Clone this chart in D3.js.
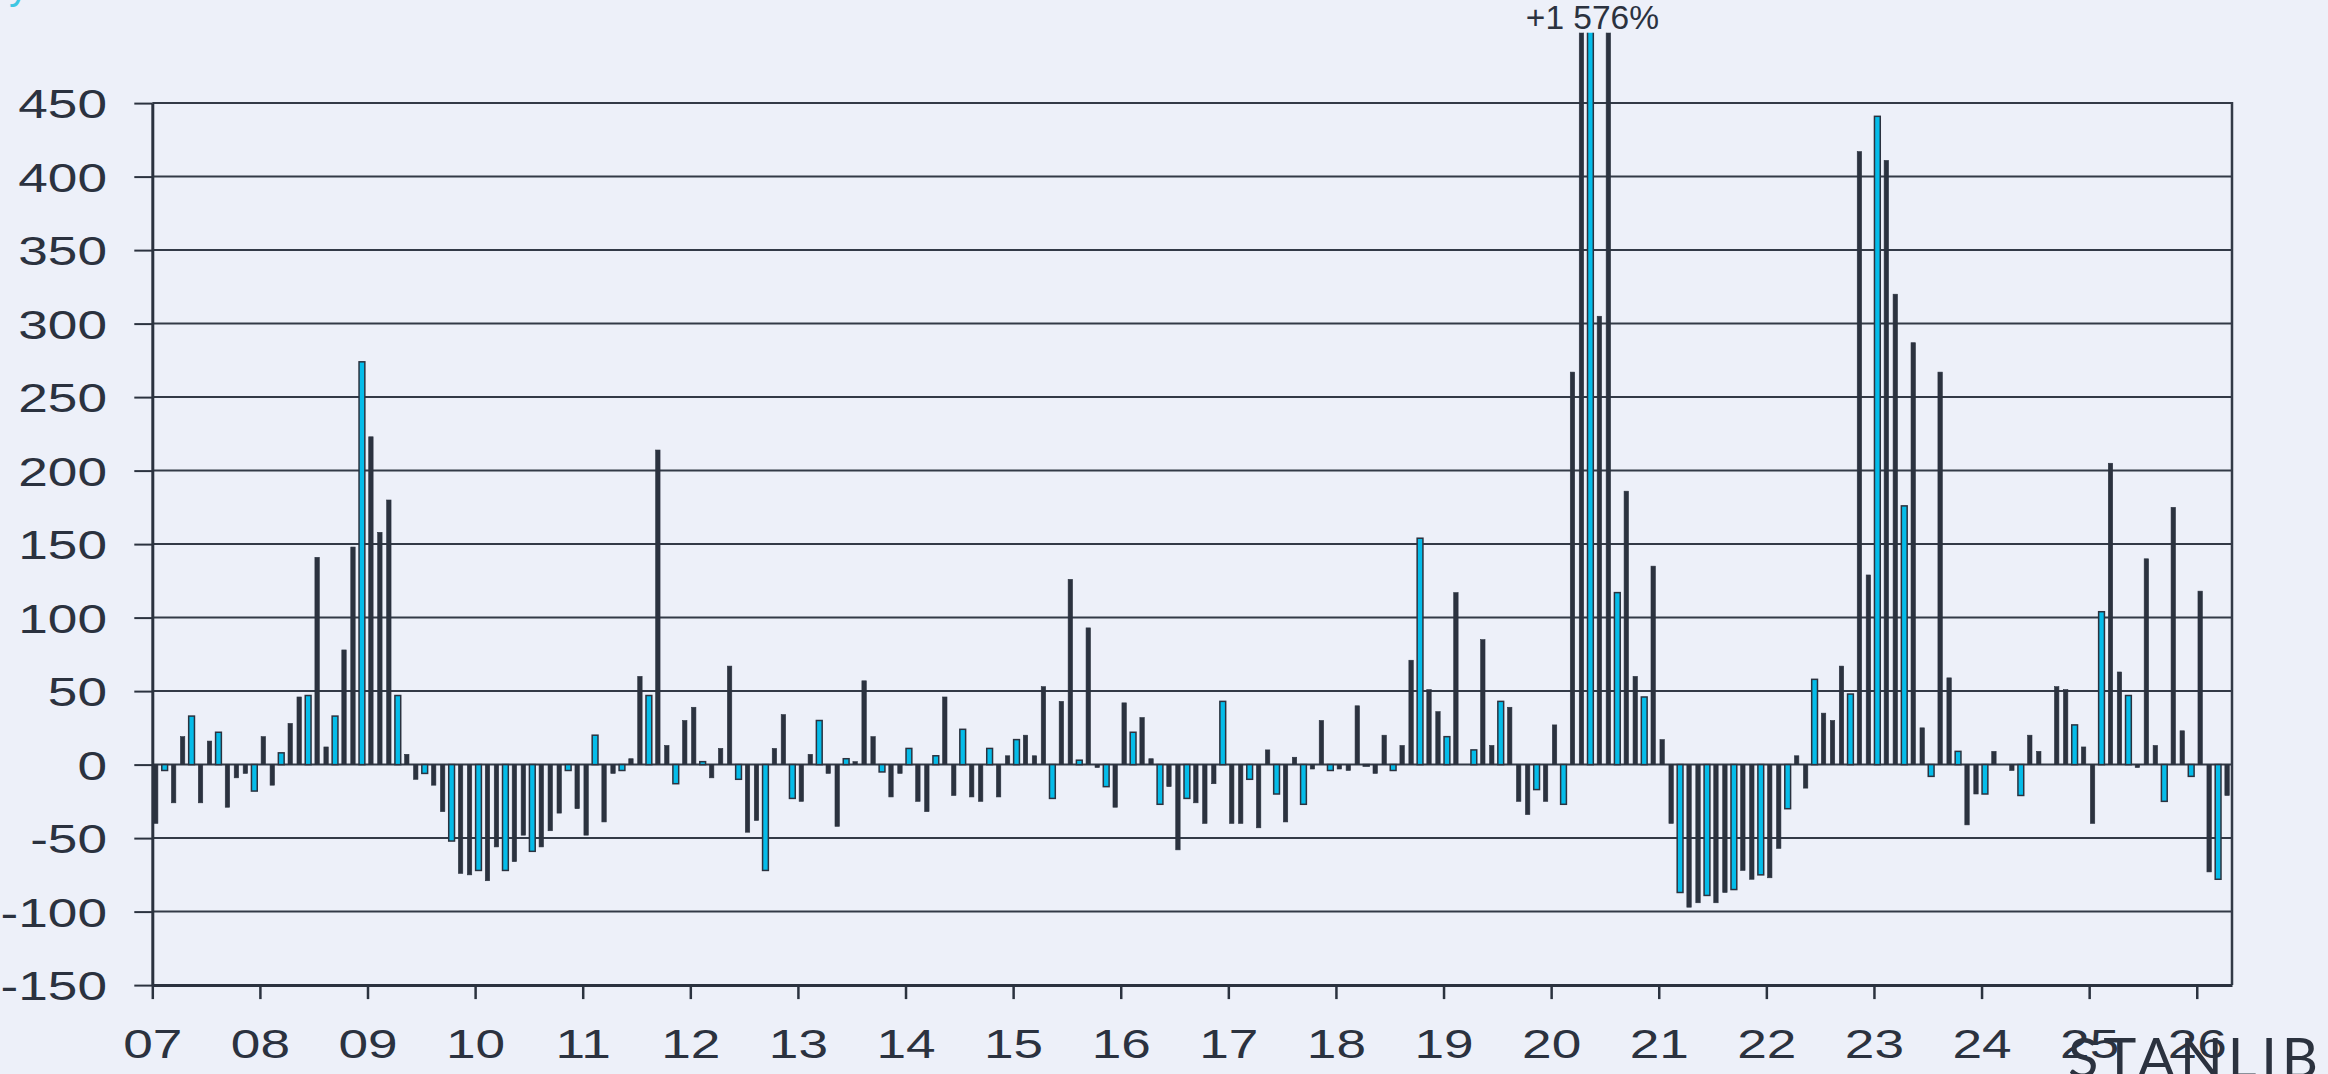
<!DOCTYPE html>
<html><head><meta charset="utf-8">
<script src="https://cdn.jsdelivr.net/npm/d3@7"></script>
<style>html,body{margin:0;padding:0;background:#edf0f9;overflow:hidden}</style>
</head><body><svg id="c" width="2328" height="1074"></svg>
<script>
// Monthly % change values, Jan 2007 .. Apr 2026 (one row per year)
const values = [
  -40,-4,-26,19,33,-26,16,22,-29,-9,-6,-18,
  19,-14,8,28,46,47,141,12,33,78,148,274,
  223,158,180,47,7,-10,-6,-14,-32,-52,-74,-75,
  -72,-79,-56,-72,-66,-48,-59,-56,-45,-33,-4,-30,
  -48,20,-39,-6,-4,4,60,47,214,13,-13,30,
  39,2,-9,11,67,-10,-46,-38,-72,11,34,-23,
  -25,7,30,-6,-42,4,2,57,19,-5,-22,-6,
  11,-25,-32,6,46,-21,24,-22,-25,11,-22,6,
  17,20,6,53,-23,43,126,3,93,-2,-15,-29,
  42,22,32,4,-27,-15,-58,-23,-26,-40,-13,43,
  -40,-40,-10,-43,10,-20,-39,5,-27,-3,30,-4,
  -3,-4,40,-1,-6,20,-4,13,71,154,51,36,
  19,117,0,10,85,13,43,39,-25,-34,-17,-25,
  27,-27,267,650,1576,305,700,117,186,60,46,135,
  17,-40,-87,-97,-94,-89,-94,-87,-85,-72,-78,-75,
  -77,-57,-30,6,-16,58,35,30,67,48,417,129,
  441,411,320,176,287,25,-8,267,59,9,-41,-20,
  -20,9,0,-4,-21,20,9,0,53,51,27,12,
  -40,104,205,63,47,-2,140,13,-25,175,23,-8,
  118,-73,-78,-21
];
// indices of highlighted (cyan) bars
const cyanBars = [1,4,7,11,14,17,20,23,27,30,33,36,39,42,46,49,52,55,58,61,65,68,71,74,77,81,84,87,90,93,96,100,103,106,109,112,115,119,122,125,128,131,135,138,141,144,147,150,154,157,160,163,166,170,173,176,179,182,185,189,192,195,198,201,204,208,211,214,217,220,224,227,230];
const yearLabels = ["07","08","09","10","11","12","13","14","15","16","17","18","19","20","21","22","23","24","25","26"];
const yTicks = [-150,-100,-50,0,50,100,150,200,250,300,350,400,450];
const peakIndex = 160;
const peakLabel = "+1 576%";
const brandText = "STANLIB";

const dark = "#2b323f", gridCol = "#333a47", cyan = "#05bce9", bg = "#edf0f9";
const W = 2328, H = 1074;
const plotLeft = 152.3, plotRight = 2232, plotTop = 103.1, plotBottom = 985.1;
const stretch = 1.33;
const font = "'Liberation Sans', Arial, sans-serif";

const svg = d3.select("#c");
svg.append("rect").attr("width", W).attr("height", H).attr("fill", bg);

const x = d3.scaleLinear().domain([0, 231.93]).range([plotLeft, plotRight]);
const y = d3.scaleLinear().domain([-150, 450]).range([plotBottom, plotTop]);
const barOffset = 0.38;

// gridlines
svg.append("g").selectAll("line").data(yTicks.filter(d => d > -150)).join("line")
  .attr("x1", plotLeft).attr("x2", plotRight)
  .attr("y1", d => y(d)).attr("y2", d => y(d))
  .attr("stroke", gridCol).attr("stroke-width", 2);

// right border
svg.append("line").attr("x1", plotRight).attr("x2", plotRight)
  .attr("y1", y(450) - 1).attr("y2", y(-150))
  .attr("stroke", gridCol).attr("stroke-width", 2.5);

// clip
svg.append("defs").append("clipPath").attr("id", "clip")
  .append("rect").attr("x", 0).attr("y", y(497.8)).attr("width", W).attr("height", H);

const cyanSet = new Set(cyanBars);
const bars = values.map((v, i) => ({ v, i, c: cyanSet.has(i) }));
const darkW = 4.4, cyanW = 5.8;
svg.append("g").attr("clip-path", "url(#clip)")
  .selectAll("rect").data(bars).join("rect")
  .attr("x", d => x(d.i + barOffset) - (d.c ? cyanW : darkW) / 2)
  .attr("width", d => d.c ? cyanW : darkW)
  .attr("y", d => y(Math.max(0, d.v)))
  .attr("height", d => Math.abs(y(d.v) - y(0)))
  .attr("fill", d => d.c ? cyan : dark)
  .attr("stroke", dark)
  .attr("stroke-width", d => d.c ? 1.5 : 0.6);

// y axis
const yAxis = d3.axisLeft(y).tickValues(yTicks).tickSize(18).tickSizeOuter(0).tickFormat(d => String(d));
const gy = svg.append("g").attr("transform", `translate(${plotLeft},0)`).call(yAxis);
gy.select(".domain").attr("stroke", dark).attr("stroke-width", 3);
gy.selectAll(".tick line").attr("stroke", dark).attr("stroke-width", 2);
gy.selectAll(".tick text")
  .attr("x", 0).attr("dy", "0.36em")
  .attr("transform", `translate(${107 - plotLeft},0) scale(${stretch},1)`)
  .attr("font-family", font).attr("font-size", 40).attr("fill", dark)
  .attr("text-anchor", "end");

// x axis
const xAxis = d3.axisBottom(x).tickValues(d3.range(0, 229, 12)).tickSize(14).tickSizeOuter(0)
  .tickFormat((d, i) => yearLabels[i]);
const gx = svg.append("g").attr("transform", `translate(0,${plotBottom})`).call(xAxis);
gx.select(".domain").attr("stroke", dark).attr("stroke-width", 3);
gx.selectAll(".tick line").attr("stroke", dark).attr("stroke-width", 2.5);
gx.selectAll(".tick text")
  .attr("y", 73).attr("dy", 0)
  .attr("transform", `scale(${stretch},1)`)
  .attr("font-family", font).attr("font-size", 40).attr("fill", dark)
  .attr("text-anchor", "middle");

// peak label
svg.append("text").attr("x", x(peakIndex + barOffset) + 2).attr("y", 29)
  .attr("text-anchor", "middle").attr("font-family", font).attr("font-size", 33.5)
  .attr("fill", dark).text(peakLabel);

// cut-off title remnant (cyan)
svg.append("text").attr("x", 9).attr("y", -1).attr("font-family", font)
  .attr("font-size", 40).attr("fill", "#3ec6e2").text("y");

// brand
svg.append("text").attr("x", 2068).attr("y", 1078)
  .attr("font-family", "Lato, 'Open Sans', sans-serif").attr("font-size", 56)
  .attr("textLength", 250).attr("lengthAdjust", "spacing")
  .attr("fill", dark).text(brandText);
</script></body></html>
